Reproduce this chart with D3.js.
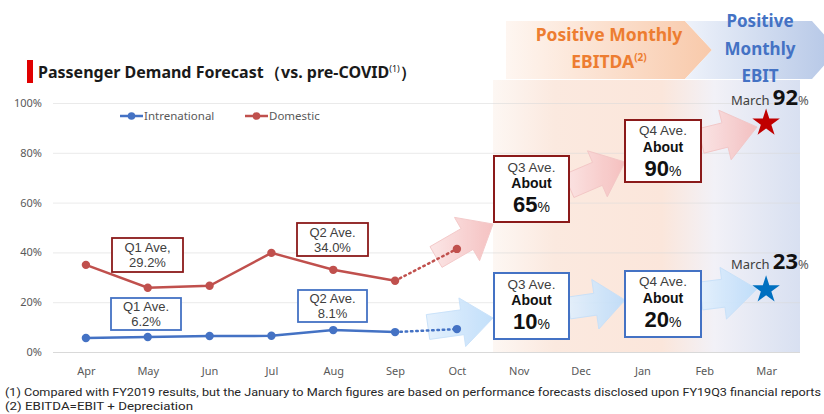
<!DOCTYPE html>
<html>
<head>
<meta charset="utf-8">
<script src="https://cdn.jsdelivr.net/npm/d3@7"></script>
<style>
body { margin: 0; background: #fff; }
svg { display: block; font-family: "Noto Sans", "Open Sans", sans-serif; }
</style>
</head>
<body>
<div id="graf"></div>
<script>
// datos
const months = ['Apr', 'May', 'Jun', 'Jul', 'Aug', 'Sep', 'Oct', 'Nov', 'Dec', 'Jan', 'Feb', 'Mar']
const actualMonths = ['Apr', 'May', 'Jun', 'Jul', 'Aug', 'Sep']
const intlActual = [5.6, 6.0, 6.4, 6.5, 8.8, 8.0]
const domActual = [35.0, 25.8, 26.6, 39.8, 33.0, 28.6]
const forecastMonths = ['Sep', 'Oct']
const intlForecast = [8.0, 9.2]
const domForecast = [28.6, 41.4]
const yTicks = [0, 20, 40, 60, 80, 100]
const marchTargets = [92, 23]   // domestic, international
const q3Targets = [65, 10]
const q4Targets = [90, 20]
const q1Labels = ['29.2%', '6.2%']
const q2Labels = ['34.0%', '8.1%']

const ancho = 824, alto = 414
const rojo = '#c0504d', azul = '#4472c4'
const fuenteCaja = '"Liberation Sans", Arial, sans-serif'

const svg = d3.select('#graf').append('svg')
    .attr('width', ancho)
    .attr('height', alto)

const defs = svg.append('defs')

const x = d3.scalePoint().domain(months).range([55, 797]).padding(0.5)
const y = d3.scaleLinear().domain([0, 100]).range([352, 103])

const grad = (id, stops) => {
    const g = defs.append('linearGradient').attr('id', id)
        .attr('x1', 0).attr('y1', 0).attr('x2', 1).attr('y2', 0)
    stops.forEach(([o, c]) => g.append('stop').attr('offset', o).attr('stop-color', c))
}
grad('panel', [[0, '#fdf7f3'], [0.2, '#fbe9df'], [0.55, '#fbe6db'], [0.72, '#f2f1f7'], [1, '#d8e0f1']])
grad('chevO', [[0, '#fef6f1'], [1, '#f8c9aa']])
grad('chevB', [[0, '#eef2fa'], [1, '#b4c6e6']])
grad('pink', [[0, '#fbe4e4'], [1, '#f5bcbc']])
grad('celeste', [[0, '#e2f0fd'], [1, '#bcdcfa']])

// panel de fondo del pronostico
svg.append('rect')
    .attr('x', 493).attr('y', 80)
    .attr('width', 307).attr('height', 272)
    .attr('fill', 'url(#panel)')

// chevrons
svg.append('polygon')
    .attr('points', [[506, 21], [685, 21], [712, 50], [685, 79], [506, 79]].join(' '))
    .attr('fill', 'url(#chevO)')
svg.append('polygon')
    .attr('points', [[685, 21], [812, 21], [838, 50], [812, 79], [685, 79], [712, 50]].join(' '))
    .attr('fill', 'url(#chevB)')

const chevText = (lines, cx, color, size) => {
    lines.forEach(([t, yy, sup]) => {
        const tx = svg.append('text').attr('x', cx).attr('y', yy)
            .attr('text-anchor', 'middle')
            .attr('fill', color)
            .attr('font-weight', 'bold')
            .attr('font-size', size)
            .text(t)
        if (sup) tx.append('tspan').attr('font-size', 10).attr('dy', -7).text(sup)
    })
}
chevText([['Positive Monthly', 41], ['EBITDA', 68, '(2)']], 609, '#ed7d31', 17.5)
chevText([['Positive', 27], ['Monthly', 55], ['EBIT', 82]], 760, '#4472c4', 17)

// grilla y eje y
const gy = svg.append('g')
    .attr('transform', 'translate(53,0)')
    .call(d3.axisLeft(y).tickValues(yTicks).tickFormat(d => d + '%').tickSize(-747).tickPadding(11))
gy.select('.domain').remove()
gy.selectAll('line').attr('stroke', '#d9d9d9').attr('stroke-opacity', d => d === 0 ? 1 : 0.55)
gy.selectAll('text').attr('fill', '#595959').attr('font-size', 11)
    .attr('font-family', '"Noto Sans", sans-serif')

// eje x
const gx = svg.append('g')
    .attr('transform', 'translate(0,352)')
    .call(d3.axisBottom(x).tickSize(0).tickPadding(15))
gx.select('.domain').remove()
gx.selectAll('text').attr('fill', '#595959').attr('font-size', 11)
    .attr('font-family', '"Noto Sans", sans-serif')

// flechas
const flecha = (tail, tip, sw, hw, hl, fill, stroke) => {
    const dx = tip[0] - tail[0], dy = tip[1] - tail[1]
    const L = Math.hypot(dx, dy)
    const u = [dx / L, dy / L], n = [-u[1], u[0]]
    const b = [tip[0] - u[0] * hl, tip[1] - u[1] * hl]
    const p = (o, k) => [o[0] + n[0] * k, o[1] + n[1] * k]
    const pts = [p(tail, -sw / 2), p(b, -sw / 2), p(b, -hw / 2), tip, p(b, hw / 2), p(b, sw / 2), p(tail, sw / 2)]
    svg.append('polygon')
        .attr('points', pts.map(d => d.join(',')).join(' '))
        .attr('fill', fill)
        .attr('stroke', stroke)
        .attr('stroke-width', 1)
        .attr('opacity', 0.9)
}
flecha([436, 257], [493, 224], 24, 50, 30, 'url(#pink)', '#f3c4c4')
flecha([569, 186], [625, 162], 25, 50, 30, 'url(#pink)', '#f3c4c4')
flecha([701, 141], [757, 127], 25, 51, 33, 'url(#pink)', '#f3c4c4')
flecha([428, 327], [493, 318], 25, 49, 31, 'url(#celeste)', '#c5e0fa')
flecha([569, 308], [625, 300], 22, 50, 30, 'url(#celeste)', '#c5e0fa')
flecha([701, 296], [757, 289], 28, 52, 34, 'url(#celeste)', '#c5e0fa')

// series
const series = [
    { name: 'Intrenational', color: azul, actual: intlActual, forecast: intlForecast },
    { name: 'Domestic', color: rojo, actual: domActual, forecast: domForecast },
]
const linea = d3.line().x(d => x(d.m)).y(d => y(d.v))

series.forEach(s => {
    const act = actualMonths.map((m, i) => ({ m, v: s.actual[i] }))
    const fc = forecastMonths.map((m, i) => ({ m, v: s.forecast[i] }))
    svg.append('path').datum(fc)
        .attr('d', linea)
        .attr('fill', 'none')
        .attr('stroke', s.color)
        .attr('stroke-width', 2.5)
        .attr('stroke-dasharray', '1.5 3.8')
        .attr('stroke-linecap', 'round')
    svg.append('path').datum(act)
        .attr('d', linea)
        .attr('fill', 'none')
        .attr('stroke', s.color)
        .attr('stroke-width', 2.5)
    svg.selectAll(null).data(act.concat(fc.slice(1)))
        .enter().append('circle')
        .attr('cx', d => x(d.m))
        .attr('cy', d => y(d.v))
        .attr('r', 4.2)
        .attr('fill', s.color)
})

// leyenda
series.forEach((s, i) => {
    const lx = 120 + i * 125
    svg.append('line').attr('x1', lx).attr('x2', lx + 23).attr('y1', 116).attr('y2', 116)
        .attr('stroke', s.color).attr('stroke-width', 2.5)
    svg.append('circle').attr('cx', lx + 11.5).attr('cy', 116).attr('r', 3.8).attr('fill', s.color)
    svg.append('text').attr('x', lx + 24).attr('y', 120)
        .attr('font-size', 11.5).attr('fill', '#595959')
        .text(s.name)
})

// cajas
const caja = (cx, top, w, h, color, sw, lines) => {
    svg.append('rect')
        .attr('x', cx - w / 2).attr('y', top)
        .attr('width', w).attr('height', h)
        .attr('fill', '#fff')
        .attr('stroke', color)
        .attr('stroke-width', sw)
    lines.forEach(l => {
        const t = svg.append('text').attr('x', cx).attr('y', top + l.dy)
            .attr('text-anchor', 'middle')
            .attr('font-family', fuenteCaja)
            .attr('font-size', l.size)
            .attr('font-weight', l.bold ? 'bold' : 'normal')
            .attr('fill', l.bold ? '#111' : '#404040')
            .text(l.t)
        if (l.pct) t.append('tspan').attr('font-size', 14).attr('font-weight', 'normal').text('%')
    })
}
const rojoCaja = '#8b1a1a'
caja(147.5, 238, 71, 34, rojoCaja, 1.8, [{ t: 'Q1 Ave,', size: 13, dy: 14 }, { t: q1Labels[0], size: 13, dy: 29 }])
caja(332.5, 223, 71, 33, rojoCaja, 1.8, [{ t: 'Q2 Ave.', size: 13, dy: 14 }, { t: q2Labels[0], size: 13, dy: 29 }])
caja(146, 298, 70, 32, azul, 1.8, [{ t: 'Q1 Ave.', size: 13, dy: 13 }, { t: q1Labels[1], size: 13, dy: 28 }])
caja(332.5, 290, 69, 32, azul, 1.8, [{ t: 'Q2 Ave.', size: 13, dy: 13 }, { t: q2Labels[1], size: 13, dy: 28 }])

const grande = (v) => [{ t: 'About', size: 14, bold: true, dy: 32 }, { t: String(v), size: 22, bold: true, dy: 56, pct: true }]
caja(531.5, 156, 75, 66, rojoCaja, 2, [{ t: 'Q3 Ave.', size: 13.5, dy: 16 }, ...grande(q3Targets[0])])
caja(663, 120, 76, 62, rojoCaja, 2, [{ t: 'Q4 Ave.', size: 13.5, dy: 15 }, ...grande(q4Targets[0])])
caja(531.5, 273, 75, 66, azul, 2, [{ t: 'Q3 Ave.', size: 13.5, dy: 16 }, ...grande(q3Targets[1])])
caja(663, 271, 76, 66, azul, 2, [{ t: 'Q4 Ave.', size: 13.5, dy: 15 }, ...grande(q4Targets[1])])

// estrellas de marzo
const estrellas = [
    { v: marchTargets[0], color: '#c00000', labelY: 105 },
    { v: marchTargets[1], color: '#0070c0', labelY: 269 },
]
estrellas.forEach((e, i) => {
    svg.append('path')
        .attr('d', d3.symbol(d3.symbolStar).size(235)())
        .attr('transform', `translate(${x('Mar')},${y(e.v) + (i ? -5 : 0)})`)
        .attr('fill', e.color)
    const t = svg.append('text').attr('x', 731).attr('y', e.labelY).attr('fill', '#404040')
    t.append('tspan').attr('font-size', 13).text('March ')
    t.append('tspan').attr('font-size', 22).attr('font-weight', 'bold').attr('fill', '#111').text(e.v)
    t.append('tspan').attr('font-size', 13).attr('fill', '#595959').text('%')
})

// titulo
svg.append('rect').attr('x', 27).attr('y', 60).attr('width', 6).attr('height', 23).attr('fill', '#e00000')
const titulo = svg.append('text').attr('x', 38).attr('y', 78)
    .attr('font-size', 16).attr('font-weight', 'bold').attr('fill', '#1a1a1a')
titulo.append('tspan').text('Passenger Demand Forecast')
titulo.append('tspan').attr('x', 265).text('（vs. pre-COVID')
titulo.append('tspan').attr('font-size', 9).attr('font-weight', 'normal').attr('dy', -6).text('(1)')
titulo.append('tspan').attr('dy', 6).text('）')

// notas
const notas = [
    ['(1) Compared with FY2019 results, but the January to March figures are based on performance forecasts disclosed upon FY19Q3 financial reports', 396, 816],
    ['(2) EBITDA=EBIT + Depreciation', 410, 188],
]
notas.forEach(([t, yy, w]) => {
    svg.append('text').attr('x', 5).attr('y', yy)
        .attr('font-family', '"Liberation Sans Narrow", "Roboto", sans-serif')
        .attr('font-size', 11.5)
        .attr('fill', '#262626')
        .attr('textLength', w)
        .attr('lengthAdjust', 'spacingAndGlyphs')
        .text(t)
})
</script>
</body>
</html>
